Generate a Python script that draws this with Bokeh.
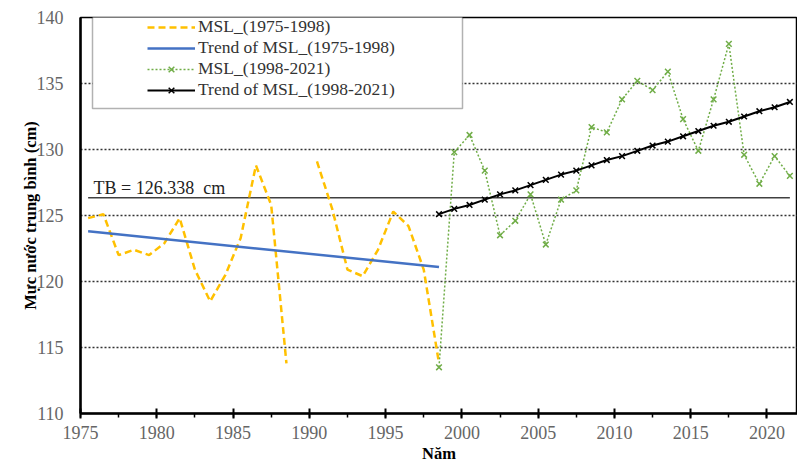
import math
from bokeh.plotting import figure
from bokeh.models import (Range1d, SingleIntervalTicker, FixedTicker, Legend, LegendItem,
                          Label, BoxAnnotation, Title)
from bokeh.embed import file_html
from bokeh.resources import INLINE

# ---------------- data ----------------
years_a = list(range(1975, 1999))
msl_a = [124.8, 125.1, 122.0, 122.4, 122.0, 122.9, 124.8, 120.9, 118.5, 120.5,
         123.3, 128.8, 125.8, 113.8, float("nan"), 129.1, 125.5, 120.9, 120.4, 122.4,
         125.3, 124.2, 120.9, 113.8]
trend_a_years = [1975, 1998]
trend_a = [123.8, 121.1]

years_b = list(range(1998, 2022))
msl_b = [113.5, 129.8, 131.1, 128.4, 123.5, 124.6, 126.6, 122.8, 126.2, 126.9,
         131.7, 131.3, 133.8, 135.2, 134.5, 135.9, 132.3, 129.9, 133.8, 138.0,
         129.6, 127.4, 129.5, 128.0]
trend_b = [125.1, 125.5, 125.8, 126.2, 126.6, 126.9, 127.3, 127.7, 128.1, 128.4,
           128.8, 129.2, 129.5, 129.9, 130.3, 130.6, 131.0, 131.4, 131.8, 132.1,
           132.5, 132.9, 133.2, 133.6]

tb_value = 126.338
y_ticks = [110, 115, 120, 125, 130, 135, 140]

MID = 0.5  # annual means are plotted at mid-year
xa = [y + MID for y in years_a]
xta = [y + MID for y in trend_a_years]
xb = [y + MID for y in years_b]

SERIF = "Liberation Serif"

p = figure(width=797, height=462, output_backend="svg", toolbar_location=None,
           x_range=Range1d(1975, 2022), y_range=Range1d(110, 140),
           min_border_left=80, min_border_right=0, min_border_top=17, min_border_bottom=46,
           background_fill_color="white", border_fill_color="white")
p.outline_line_color = "black"
p.outline_line_width = 1.5

# grid
p.xgrid.visible = False
p.ygrid.ticker = FixedTicker(ticks=y_ticks)
p.ygrid.grid_line_color = "#333333"
p.ygrid.grid_line_dash = "2 2"
p.ygrid.grid_line_width = 1.5

# axes
p.xaxis.ticker = SingleIntervalTicker(interval=5, num_minor_ticks=2)
p.yaxis.ticker = FixedTicker(ticks=y_ticks)
for ax in (p.xaxis[0], p.yaxis[0]):
    ax.axis_line_color = "black"
    ax.axis_line_width = 2.5
    ax.major_tick_line_color = "black"
    ax.major_tick_line_width = 2
    ax.minor_tick_line_color = "black"
    ax.minor_tick_line_width = 1.5
    ax.major_label_text_font = SERIF
    ax.major_label_text_font_size = "18px"
    ax.major_label_text_color = "#666666"
p.xaxis.major_tick_in = 5
p.xaxis.major_tick_out = 5
p.xaxis.minor_tick_in = 0
p.xaxis.minor_tick_out = 4
p.xaxis.major_label_standoff = 7
p.yaxis.major_tick_in = 0
p.yaxis.major_tick_out = 0
p.yaxis.minor_tick_line_color = None
p.yaxis.major_label_standoff = 17
p.yaxis.axis_label = "Mực nước trung bình (cm)"
p.yaxis.axis_label_text_font = SERIF
p.yaxis.axis_label_text_font_style = "bold"
p.yaxis.axis_label_text_font_size = "16.5px"
p.yaxis.axis_label_text_color = "black"
p.yaxis.axis_label_standoff = -6

# mean line
p.line([xa[0], xb[-1]], [tb_value, tb_value], line_color="#404040", line_width=1.5)

# series
r_a = p.line(xa, msl_a, line_color="#FFC000", line_width=2.5, line_dash="7 4")
r_ta = p.line(xta, trend_a, line_color="#4472C4", line_width=2.5)
r_b = p.line(xb, msl_b, line_color="#70AD47", line_width=1.5, line_dash="2 2")
r_bm = p.scatter(xb, msl_b, marker="x", size=8, line_color="#70AD47", line_width=1.5)
r_tb = p.line(xb, trend_b, line_color="black", line_width=2)
r_tbm = p.scatter(xb, trend_b, marker="x", size=8, line_color="black", line_width=1.5)

# TB label
p.add_layout(Label(x=13, x_units="screen", y=tb_value, y_offset=10,
                   text="TB = 126.338\u00a0 cm", text_font=SERIF, text_font_size="18px",
                   text_color="#222222", text_baseline="alphabetic"))

# legend frame + legend
p.add_layout(BoxAnnotation(left=12, right=382, bottom=305, top=397,
                           left_units="screen", right_units="screen",
                           bottom_units="screen", top_units="screen",
                           fill_color="white", fill_alpha=1,
                           line_color="black", line_width=1.5))
legend = Legend(items=[
    LegendItem(label="MSL_(1975-1998)", renderers=[r_a]),
    LegendItem(label="Trend of MSL_(1975-1998)", renderers=[r_ta]),
    LegendItem(label="MSL_(1998-2021)", renderers=[r_b, r_bm]),
    LegendItem(label="Trend of MSL_(1998-2021)", renderers=[r_tb, r_tbm]),
], location=(64, 310), padding=3, spacing=0, glyph_width=48, glyph_height=20,
    label_height=20, label_standoff=3, border_line_alpha=0, background_fill_alpha=0,
    label_text_font=SERIF, label_text_font_size="17.5px", label_text_color="#333333")
p.add_layout(legend)

# x-axis title
xt = Title(text="Năm", align="center", offset=34, standoff=0,
           text_font=SERIF, text_font_style="bold", text_font_size="16.5px",
           text_color="black")
p.add_layout(xt, "below")

open("out.html", "w").write(file_html(p, INLINE))
